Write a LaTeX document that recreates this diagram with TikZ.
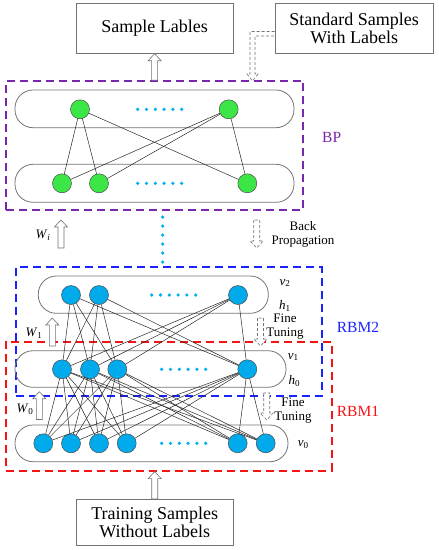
\documentclass[tikz,border=0pt]{standalone}
\usepackage{fontspec}
\setmainfont{Liberation Serif}
\usetikzlibrary{calc}
\definecolor{bpc}{RGB}{120,40,170}
\definecolor{rbmblue}{RGB}{25,35,255}
\definecolor{rbmred}{RGB}{245,20,20}
\definecolor{gnode}{RGB}{60,230,70}
\definecolor{bnode}{RGB}{0,170,235}
\definecolor{dotc}{RGB}{0,176,240}
\definecolor{boxgray}{RGB}{115,115,115}
\newcommand{\hup}[3][]{\draw[harrow,#1] let \p1=(#2), \p2=(#3) in (\x1-3pt,\y1) -- (\x1-3pt,\y2-7pt) -- (\x1-6.5pt,\y2-7pt) -- (\x1,\y2) -- (\x1+6.5pt,\y2-7pt) -- (\x1+3pt,\y2-7pt) -- (\x1+3pt,\y1) -- cycle;}
\newcommand{\hdown}[3][]{\draw[harrow,#1] let \p1=(#2), \p2=(#3) in (\x1-3pt,\y1) -- (\x1-3pt,\y2+7pt) -- (\x1-6.5pt,\y2+7pt) -- (\x1,\y2) -- (\x1+6.5pt,\y2+7pt) -- (\x1+3pt,\y2+7pt) -- (\x1+3pt,\y1) -- cycle;}
\newcommand{\dotrow}[2]{\foreach \i in {0,...,5} \fill[dotc] (#1+8.8*\i,#2) circle (1.8);}
\tikzset{
  txtbox/.style={draw=boxgray, line width=0.8pt, align=center, font=\fontsize{18}{17.8}\selectfont, inner sep=0pt},
  pill/.style={draw=boxgray, line width=0.8pt, rounded corners=18pt, inner sep=0pt},
  dashbox/.style={line width=1.8pt, dash pattern=on 8pt off 5pt, inner sep=0pt},
  gn/.style={circle, draw=black!70, line width=0.5pt, fill=gnode, minimum size=19pt, inner sep=0pt},
  bn/.style={circle, draw=black!70, line width=0.5pt, fill=bnode, minimum size=19pt, inner sep=0pt},
  edge/.style={draw=black!85, line width=0.5pt},
  harrow/.style={draw=boxgray, line width=0.6pt, fill=white},
  darrow/.style={draw=boxgray, line width=0.6pt, densely dashed, fill=white},
  lab/.style={font=\fontsize{13}{14}\selectfont, inner sep=0pt, align=center},
  biglab/.style={font=\fontsize{15.5}{16}\selectfont, inner sep=0pt}
}
\begin{document}
\begin{tikzpicture}[x=1pt,y=-1pt]
\useasboundingbox (0,0) rectangle (439,550);
% text boxes
\node[txtbox, minimum width=157.3, minimum height=50] (sl) at (154.7,28.3) {Sample Lables};
\node[txtbox, minimum width=158.3, minimum height=50] (std) at (354.2,28.3) {Standard Samples\\With Labels};
\node[txtbox, minimum width=157.3, minimum height=45.7] (tr) at (154.7,522.2) {Training Samples\\Without Labels};
% dashed group boxes
\node[dashbox, draw=bpc, minimum width=297.3, minimum height=129] (bpbox) at (154.65,145.5) {};
\node[dashbox, draw=rbmblue, minimum width=306, minimum height=128.4] (rbm2) at (168.7,331.5) {};
\node[dashbox, draw=rbmred, minimum width=325.7, minimum height=129] (rbm1) at (168.85,406.2) {};
\node[biglab, text=bpc] (bplab) at (331.7,137.3) {BP};
\node[biglab, text=rbmblue] (rbm2lab) at (358,327.3) {RBM2};
\node[biglab, text=rbmred] (rbm1lab) at (358,411) {RBM1};
% pills
\node[pill, minimum width=279, minimum height=37.7] (bpt) at (154.5,108.85) {};
\node[pill, minimum width=279, minimum height=38] (bpb) at (154.5,183.3) {};
\node[pill, minimum width=230, minimum height=37.3] (p2) at (153.3,294.65) {};
\node[pill, minimum width=271, minimum height=36.6] (p1) at (150.5,369) {};
\node[pill, minimum width=273, minimum height=36.7] (p0) at (151.5,443.35) {};
% BP nodes
\node[gn] (t1) at (80,109.3) {};
\node[gn] (t2) at (228.7,109.3) {};
\node[gn] (b1) at (62,183.3) {};
\node[gn] (b2) at (99,183.3) {};
\node[gn] (b3) at (247.3,183.3) {};
\dotrow{137.7}{109.3}
\dotrow{137.7}{183.3}
\foreach \a in {t1,t2} \foreach \b in {b1,b2,b3} \draw[edge] (\a) -- (\b);
% vertical dotted line
\foreach \i in {0,...,5} \fill[dotc] (162.7,217+9*\i) circle (1.8);
% RBM nodes
\node[bn] (v21) at (71,295) {};
\node[bn] (v22) at (99,295) {};
\node[bn] (v23) at (238,295) {};
\node[bn] (v11) at (62,369.3) {};
\node[bn] (v12) at (90,369.3) {};
\node[bn] (v13) at (117.3,369.3) {};
\node[bn] (v14) at (247.3,369.3) {};
\node[bn] (v01) at (43.3,443.3) {};
\node[bn] (v02) at (71,443.3) {};
\node[bn] (v03) at (99,443.3) {};
\node[bn] (v04) at (126.7,443.3) {};
\node[bn] (v05) at (237.7,443.3) {};
\node[bn] (v06) at (265.7,443.3) {};
\dotrow{151.7}{295}
\dotrow{161.7}{369.3}
\dotrow{161.7}{443.3}
\foreach \a in {v21,v22,v23} \foreach \b in {v11,v12,v13,v14} \draw[edge] (\a) -- (\b);
\foreach \a in {v11,v12,v13,v14} \foreach \b in {v01,v02,v03,v04,v05,v06} \draw[edge] (\a) -- (\b);
% layer labels
\node[lab] (lv2) at (285,283) {\textit{v}\textsubscript{2}};
\node[lab] (lh1) at (285,306) {\textit{h}\textsubscript{1}};
\node[lab] (lv1) at (293.3,357) {\textit{v}\textsubscript{1}};
\node[lab] (lh0) at (294.3,381) {\textit{h}\textsubscript{0}};
\node[lab] (lv0) at (303.3,445) {\textit{v}\textsubscript{0}};
% arrows between boxes
\hup{bpbox.north}{sl.south}
\hup{tr.north}{rbm1.south}
\coordinate (bptip) at (252.5,81);
\draw[darrow, fill=none] let \p1=(std.west), \p2=(bptip) in
  (\x1,\y1-3.2pt) -- (\x2-2.5pt,\y1-3.2pt) -- (\x2-2.5pt,\y2+7pt) -- (\x2-5.5pt,\y2+7pt) -- (\x2,\y2)
  -- (\x2+5.5pt,\y2+7pt) -- (\x2+2.5pt,\y2+7pt) -- (\x2+2.5pt,\y1-7.7pt) -- (\x1,\y1-7.7pt);
% free arrows
\coordinate (wib) at (61,248); \coordinate (wit) at (61,220);
\coordinate (w1b) at (52.3,346); \coordinate (w1t) at (52.3,318);
\coordinate (w0b) at (39.3,419.5); \coordinate (w0t) at (39.3,391.7);
\coordinate (bpt1) at (256.7,220); \coordinate (bpt2) at (256.7,248);
\coordinate (ft1a) at (260.5,318); \coordinate (ft1b) at (260.5,346);
\coordinate (ft2a) at (266.7,393); \coordinate (ft2b) at (266.7,420);
\hup{wib}{wit}
\hup{w1b}{w1t}
\hup{w0b}{w0t}
\hdown[darrow]{bpt1}{bpt2}
\hdown[darrow]{ft1a}{ft1b}
\hdown[darrow]{ft2a}{ft2b}
\node[lab] (wilab) at (43,235) {\textit{W}\textsubscript{\textit{i}}};
\node[lab] (w1lab) at (34,333) {\textit{W}\textsubscript{1}};
\node[lab] (w0lab) at (25,409) {\textit{W}\textsubscript{0}};
\node[lab] (bplab2) at (303,234) {Back\\Propagation};
\node[lab] (ftlab1) at (285,327) {Fine\\Tuning};
\node[lab] (ftlab2) at (293,410.7) {Fine\\Tuning};
\end{tikzpicture}
\end{document}
